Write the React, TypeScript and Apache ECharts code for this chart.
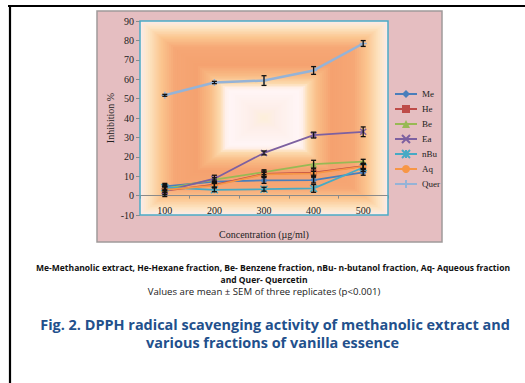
import React, { useEffect, useRef } from "react";
import * as echarts from "echarts";

const categories = ["100", "200", "300", "400", "500"];
const meValues = [4.8, 7.2, 7.8, 8.0, 12.0];
const heValues = [2.5, 5.6, 11.2, 11.8, 15.2];
const beValues = [3.5, 8.2, 12.1, 16.2, 17.5];
const eaValues = [2.3, 8.7, 22.0, 31.2, 32.9];
const nbuValues = [4.2, 3.0, 3.3, 3.7, 14.5];
const aqValues = [3.0, 5.2, 11.0, 11.5, 15.0];
const querValues = [51.7, 58.3, 59.3, 64.5, 78.4];

const meErr = [1.5, 0.8, 1.5, 1.5, 1.5];
const heErr = [2.0, 1.2, 1.5, 2.0, 1.5];
const beErr = [1.2, 1.0, 1.2, 2.0, 1.2];
const eaErr = [2.8, 1.8, 1.0, 1.5, 2.5];
const nbuErr = [1.5, 1.0, 1.0, 2.0, 2.0];
const aqErr = [1.5, 1.0, 1.0, 1.0, 1.0];
const querErr = [0.5, 0.6, 2.5, 2.0, 1.5];

const yTicks = { min: -10, max: 90, interval: 10 };

const seriesNames = ["Me", "He", "Be", "Ea", "nBu", "Aq", "Quer"];

const GL = 140, GT = 21, GW = 248, GH = 194;

function lerpColor(a: string, b: string, t: number) {
  const pa = [1, 3, 5].map((i) => parseInt(a.slice(i, i + 2), 16));
  const pb = [1, 3, 5].map((i) => parseInt(b.slice(i, i + 2), 16));
  const c = pa.map((v, i) => Math.round(v + (pb[i] - v) * t));
  return `rgb(${c[0]},${c[1]},${c[2]})`;
}

const gradStops: [number, string][] = [
  [0, "#fcebe6"],
  [0.06, "#fde5c4"],
  [0.16, "#fbc690"],
  [0.27, "#f6a775"],
  [0.45, "#f5a270"],
  [0.56, "#f9bc86"],
  [0.64, "#fcdcb0"],
  [0.68, "#fff0ea"],
  [0.72, "#fff5f6"],
  [0.9, "#fdeee8"],
  [1, "#fdefd8"],
];

function gradColor(t: number) {
  for (let i = 0; i < gradStops.length - 1; i++) {
    const [t0, c0] = gradStops[i];
    const [t1, c1] = gradStops[i + 1];
    if (t >= t0 && t <= t1) return lerpColor(c0, c1, (t - t0) / (t1 - t0));
  }
  return gradStops[gradStops.length - 1][1];
}

function measure(text: string, font: string) {
  const c = document.createElement("canvas").getContext("2d")!;
  c.font = font;
  return c.measureText(text).width;
}

function textEl(text: string, cx: number, cy: number, font: string, fill: string, s: number) {
  return {
    type: "text",
    x: cx,
    y: cy,
    scaleX: s,
    z: 5,
    style: {
      x: 0,
      y: 0,
      text,
      fill,
      font,
      textAlign: "center",
      textVerticalAlign: "middle",
      verticalAlign: "middle",
    },
  };
}

export default function App() {
  const ref = useRef<HTMLDivElement>(null);
  useEffect(() => {
    const chart = echarts.init(ref.current!, null, { renderer: "svg" });

    const graphics: any[] = [];
    graphics.push({ type: "line", z: -5, shape: { x1: 8, y1: 6, x2: 525, y2: 6 }, style: { stroke: "#000", lineWidth: 2.2 } });
    graphics.push({ type: "line", z: -5, shape: { x1: 10, y1: 5, x2: 10, y2: 383 }, style: { stroke: "#000", lineWidth: 2.2 } });
    graphics.push({ type: "rect", z: -4, shape: { x: 97, y: 11, width: 345, height: 231 }, style: { fill: "#e5bec1", stroke: "#a09a9a", lineWidth: 1.5 } });
    const N = 60;
    for (let i = 0; i < N; i++) {
      const t = i / N;
      const ix = (t * GW) / 2;
      const iy = (t * GH) / 2;
      graphics.push({
        type: "rect",
        z: -3,
        shape: { x: GL + ix, y: GT + iy, width: GW - 2 * ix, height: GH - 2 * iy },
        style: { fill: gradColor(t) },
      });
    }
    graphics.push({ type: "rect", z: 1, shape: { x: GL, y: GT, width: GW, height: GH }, style: { fill: "none", stroke: "#4bacc6", lineWidth: 1.5 } });

    const sansFam = '"Open Sans", sans-serif';
    const capBold = `bold 8.5px ${sansFam}`;
    const capReg = `normal 8.5px ${sansFam}`;
    const titleFont = `bold 14px ${sansFam}`;
    const cap1 = "Me-Methanolic extract, He-Hexane fraction, Be- Benzene fraction, nBu- n-butanol fraction, Aq- Aqueous fraction";
    const cap2 = "and Quer- Quercetin";
    const cap3 = "Values are mean \u00b1 SEM of three replicates (p<0.001)";
    const t1 = "Fig. 2. DPPH radical scavenging activity of methanolic extract and";
    const t2 = "various fractions of vanilla essence";
    const sCap = 474 / measure(cap1, capBold);
    const sReg = 233 / measure(cap3, capReg);
    const sTitle = 470 / measure(t1, titleFont);
    graphics.push(textEl(cap1, 273, 268, capBold, "#111", sCap));
    graphics.push(textEl(cap2, 264, 279.5, capBold, "#111", sCap));
    graphics.push(textEl(cap3, 264, 291.5, capReg, "#222", sReg));
    graphics.push(textEl(t1, 275, 325, titleFont, "#22508c", sTitle));
    graphics.push(textEl(t2, 272.5, 343, titleFont, "#22508c", sTitle));

    const lineDefs = [
      { name: "Me", data: meValues, err: meErr, color: "#4a7ebb", symbol: "diamond", size: 7, w: 1.75 },
      { name: "He", data: heValues, err: heErr, color: "#be4b48", symbol: "rect", size: 6, w: 1.75 },
      { name: "Be", data: beValues, err: beErr, color: "#98b954", symbol: "triangle", size: 7, w: 1.75 },
      { name: "Ea", data: eaValues, err: eaErr, color: "#7d60a0", symbol: "path://M0,0L10,10M10,0L0,10", size: 6, w: 1.75, stroke: true },
      { name: "nBu", data: nbuValues, err: nbuErr, color: "#46aac5", symbol: "path://M0,0L10,10M10,0L0,10M5,0L5,10", size: 7, w: 1.75, stroke: true },
      { name: "Aq", data: aqValues, err: aqErr, color: "#f79646", symbol: "circle", size: 6, w: 1.75 },
      { name: "Quer", data: querValues, err: querErr, color: "#95b3d7", symbol: "path://M5,0L5,10M0,5L10,5", size: 7, w: 2.5, stroke: true },
    ];

    const series: any[] = lineDefs.map((d) => ({
      type: "line",
      name: d.name,
      data: d.data,
      symbol: d.symbol,
      symbolSize: d.size,
      z: 3,
      lineStyle: { color: d.color, width: d.w },
      itemStyle: d.stroke ? { color: d.color, borderColor: d.color, borderWidth: 1.5 } : { color: d.color },
      xAxisIndex: 0,
      yAxisIndex: 0,
    }));

    const errData: any[] = [];
    lineDefs.forEach((d) => d.data.forEach((v, i) => errData.push([i, v, d.err[i]])));
    series.push({
      type: "custom",
      name: "err",
      z: 4,
      xAxisIndex: 0,
      yAxisIndex: 0,
      data: errData,
      encode: { x: 0, y: 1 },
      renderItem: (params: any, api: any) => {
        const x = api.value(0), y = api.value(1), e = api.value(2);
        const top = api.coord([x, y + e]);
        const bot = api.coord([x, y - e]);
        const cw = 2.5;
        const st = { stroke: "#111", lineWidth: 1.3 };
        return {
          type: "group",
          children: [
            { type: "line", shape: { x1: top[0], y1: top[1], x2: bot[0], y2: bot[1] }, style: st },
            { type: "line", shape: { x1: top[0] - cw, y1: top[1], x2: top[0] + cw, y2: top[1] }, style: st },
            { type: "line", shape: { x1: bot[0] - cw, y1: bot[1], x2: bot[0] + cw, y2: bot[1] }, style: st },
          ],
        };
      },
    });

    const serif = '"Liberation Serif", "Times New Roman", serif';

    chart.setOption({
      animation: false,
      graphic: graphics,
      grid: { left: GL, top: GT, width: GW, height: GH, show: false, containLabel: false },
      legend: {
        data: seriesNames,
        orient: "vertical",
        left: 389,
        top: 84,
        itemWidth: 22,
        itemHeight: 10,
        itemGap: 5,
        textStyle: { fontFamily: serif, fontSize: 9, color: "#222", lineHeight: 10 },
      },
      xAxis: [
        {
          type: "category",
          data: categories,
          position: "bottom",
          axisLine: { show: false, onZero: false },
          axisTick: { show: false },
          axisLabel: { inside: true, margin: 0, fontFamily: serif, fontSize: 10, color: "#222", verticalAlign: "bottom" },
          name: "Concentration (\u00b5g/ml)",
          nameLocation: "middle",
          nameGap: 14,
          nameTextStyle: { fontFamily: serif, fontSize: 10, color: "#222" },
        },
        {
          type: "category",
          data: categories,
          position: "top",
          axisLine: { show: true, onZero: true, lineStyle: { color: "#8a8a8a", width: 1.2 } },
          axisTick: { show: true, inside: true, length: 3, lineStyle: { color: "#8a8a8a" } },
          axisLabel: { show: false },
        },
      ],
      yAxis: {
        type: "value",
        min: yTicks.min,
        max: yTicks.max,
        interval: yTicks.interval,
        axisLine: { show: false },
        axisTick: { show: true, length: 4, lineStyle: { color: "#8a8a8a" } },
        splitLine: { show: false },
        axisLabel: { fontFamily: serif, fontSize: 10, color: "#222", margin: 6 },
        name: "Inhibition %",
        nameLocation: "middle",
        nameRotate: 90,
        nameGap: 25,
        nameTextStyle: { fontFamily: serif, fontSize: 10, color: "#222" },
      },
      series,
    });
    return () => chart.dispose();
  }, []);
  return <div ref={ref} style={{ position: "fixed", left: 0, top: 0, width: 525, height: 383, background: "#fff" }} />;
}
